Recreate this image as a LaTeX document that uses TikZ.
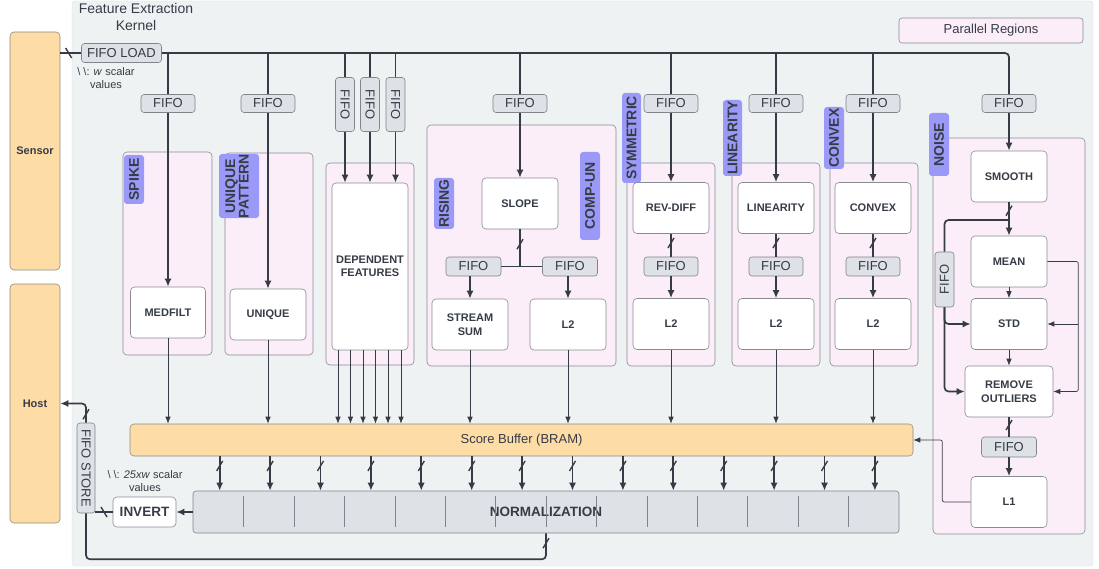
\documentclass[tikz,border=0pt]{standalone}
\usepackage{fontspec}
\setmainfont{Liberation Sans}
\setsansfont{Liberation Sans}
\usepackage{graphicx}
\usepackage{xcolor}
\usetikzlibrary{arrows.meta,calc,positioning}
\definecolor{fxKernel}{HTML}{EFF2F3}
\definecolor{fxKernelLine}{HTML}{DDE1E3}
\definecolor{fxInk}{HTML}{363C46}
\definecolor{fxPink}{HTML}{FCEEF8}
\definecolor{fxRegLine}{HTML}{8A8C94}
\definecolor{fxPurple}{HTML}{9B99F8}
\definecolor{fxFifo}{HTML}{DEE1E5}
\definecolor{fxFifoLine}{HTML}{80858C}
\definecolor{fxOrange}{HTML}{FDDCA5}
\definecolor{fxOrangeLine}{HTML}{8E8B85}

\begin{document}
\begin{tikzpicture}[x=1pt,y=-1pt,>=Latex,font=\sffamily]
  \tikzset{
    region/.style={draw=fxRegLine,fill=fxPink,rounded corners=4pt,line width=.6pt,inner sep=0pt},
    tag/.style={fill=fxPurple,rounded corners=3pt,inner sep=0pt,text=fxInk,font=\bfseries\fontsize{14}{13.5}\selectfont},
    block/.style={draw=fxRegLine,fill=white,rounded corners=4pt,line width=.6pt,inner sep=0pt,align=center,text=fxInk,font=\bfseries\fontsize{11}{13.5}\selectfont},
    blockbox/.style={block,minimum width=76pt,minimum height=51pt},
    fifo/.style={draw=fxFifoLine,fill=fxFifo,rounded corners=3pt,line width=.6pt,inner sep=0pt,text=fxInk,font=\fontsize{13}{14}\selectfont},
    fifobox/.style={fifo,minimum width=54pt,minimum height=18pt},
    fifoup/.style={fifo,minimum width=19pt,minimum height=54pt},
    io/.style={draw=fxOrangeLine,fill=fxOrange,rounded corners=4pt,line width=.6pt,inner sep=0pt,text=fxInk,font=\bfseries\fontsize{11}{13}\selectfont},
    bus/.style={draw=fxInk,line width=1.7pt},
    flow/.style={bus,-{Latex[length=8pt,width=7pt]}},
    feed/.style={draw=fxInk,line width=.7pt,-{Latex[length=7pt,width=5.5pt]}},
    note/.style={text=fxInk,align=center,inner sep=0pt,font=\fontsize{11}{12.5}\selectfont},
    busmark/.pic={\draw[-,fxInk,line width=1.4pt] (-3,5) -- (3,-5);},
    busmarkback/.pic={\draw[-,fxInk,line width=1.4pt] (-3,-5) -- (3,5);}
  }
  \useasboundingbox (0,0) rectangle (1099,569);
  \node[draw=fxKernelLine,fill=fxKernel,rounded corners=3pt,minimum width=1021pt,minimum height=565pt] (kernel) at (582.5,283.5) {};
  \node[text=fxInk,align=center,font=\fontsize{14}{16.5}\selectfont] (kernelTitle) at (136,17) {Feature Extraction\\Kernel};
  \node[io,minimum width=50pt,minimum height=238pt] (sensor) at (35,151) {Sensor};
  \node[io,minimum width=50pt,minimum height=239pt] (host) at (35,403.5) {Host};
  \node[draw=fxRegLine,fill=fxPink,rounded corners=3pt,line width=.6pt,minimum width=184pt,minimum height=25pt,text=fxInk,font=\fontsize{13}{14}\selectfont] (legend) at (991,30.5) {Parallel Regions};
  \node[fifo,minimum width=80pt,minimum height=19pt] (fifoLoad) at (121.5,53) {FIFO LOAD};
  \node[note] (loadNote) at (106,78) {\textbackslash\ \textbackslash: \textit{w} scalar\\values};

  \node[region,minimum width=89pt,minimum height=203pt] (rSpike) at (167.5,253.5) {};
  \node[region,minimum width=88pt,minimum height=202pt] (rUnique) at (269,254) {};
  \node[region,minimum width=88pt,minimum height=202pt] (rDep) at (370,264) {};
  \node[region,minimum width=189pt,minimum height=241pt] (rRising) at (521.5,245.5) {};
  \node[region,minimum width=88pt,minimum height=203pt] (rSym) at (671,264.5) {};
  \node[region,minimum width=88pt,minimum height=203pt] (rLin) at (776,264.5) {};
  \node[region,minimum width=88pt,minimum height=203pt] (rConv) at (874,264.5) {};
  \node[region,minimum width=152pt,minimum height=396pt] (rNoise) at (1009,336) {};

  \node[tag,minimum width=20pt,minimum height=49pt] (tSpike) at (134,179.5) {\rotatebox{90}{SPIKE}};
  \node[tag,minimum width=40pt,minimum height=62pt] (tUnique) at (239,186) {\rotatebox{90}{\begin{tabular}{@{}c@{}}UNIQUE\\PATTERN\end{tabular}}};
  \node[tag,minimum width=20pt,minimum height=51pt] (tRising) at (444,203.5) {\rotatebox{90}{RISING}};
  \node[tag,minimum width=20pt,minimum height=88pt] (tComp) at (590,196) {\rotatebox{90}{COMP-UN}};
  \node[tag,minimum width=19pt,minimum height=90pt] (tSym) at (631.5,138) {\rotatebox{90}{SYMMETRIC}};
  \node[tag,minimum width=19pt,minimum height=76pt] (tLin) at (732.5,138) {\rotatebox{90}{LINEARITY}};
  \node[tag,minimum width=20pt,minimum height=62pt] (tConv) at (834,138) {\rotatebox{90}{CONVEX}};
  \node[tag,minimum width=20pt,minimum height=63pt] (tNoise) at (939,144.5) {\rotatebox{90}{NOISE}};

  \node[fifobox] (fA) at (168,103.5) {FIFO};
  \node[fifobox] (fB) at (268,103.5) {FIFO};
  \node[fifoup] (fC1) at (345,104.5) {\rotatebox{-90}{FIFO}};
  \node[fifoup] (fC2) at (370,104.5) {\rotatebox{-90}{FIFO}};
  \node[fifoup] (fC3) at (395.5,104.5) {\rotatebox{-90}{FIFO}};
  \node[fifobox] (fE) at (520,103.5) {FIFO};
  \node[fifobox] (fF) at (671,103.5) {FIFO};
  \node[fifobox] (fG) at (776,103.5) {FIFO};
  \node[fifobox] (fH) at (873,103.5) {FIFO};
  \node[fifobox] (fN) at (1009,103.5) {FIFO};

  \node[block,minimum width=75pt,minimum height=51pt] (medfilt) at (168,312.5) {MEDFILT};
  \node[blockbox] (unique) at (268,314.5) {UNIQUE};
  \node[block,minimum width=76pt,minimum height=167pt] (dep) at (370,266.5) {DEPENDENT\\FEATURES};
  \node[blockbox] (slope) at (520,203.5) {SLOPE};
  \node[fifo,minimum width=55pt,minimum height=19pt] (fR1) at (473.5,266.5) {FIFO};
  \node[fifo,minimum width=55pt,minimum height=19pt] (fR2) at (570,266.5) {FIFO};
  \node[blockbox] (stream) at (470,324.5) {STREAM\\SUM};
  \node[blockbox] (l2R) at (568,324.5) {L2};
  \node[blockbox] (revdiff) at (671,208) {REV-DIFF};
  \node[fifo,minimum width=54pt,minimum height=19pt] (fS) at (671,266.5) {FIFO};
  \node[blockbox] (l2S) at (671,324) {L2};
  \node[blockbox] (linb) at (776,208) {LINEARITY};
  \node[fifo,minimum width=54pt,minimum height=19pt] (fL) at (776,266.5) {FIFO};
  \node[blockbox] (l2L) at (776,324) {L2};
  \node[blockbox] (convb) at (873,208) {CONVEX};
  \node[fifo,minimum width=54pt,minimum height=19pt] (fV) at (873,266.5) {FIFO};
  \node[blockbox] (l2V) at (873,324) {L2};
  \node[blockbox] (smooth) at (1009,176.5) {SMOOTH};
  \node[blockbox] (mean) at (1009,261.5) {MEAN};
  \node[blockbox] (std) at (1009,324) {STD};
  \node[block,minimum width=88pt,minimum height=51pt] (remove) at (1009,391.5) {REMOVE\\OUTLIERS};
  \node[fifo,minimum width=55pt,minimum height=20pt] (fN2) at (1009,447) {FIFO};
  \node[blockbox] (l1) at (1009,502) {L1};
  \node[fifo,minimum width=19pt,minimum height=55pt] (fNv) at (944.5,279.5) {\rotatebox{90}{FIFO}};

  \node[io,minimum width=783pt,minimum height=32pt,font=\fontsize{13}{14}\selectfont] (buffer) at (521.5,440) {Score Buffer (BRAM)};
  \node[fifo,minimum width=706pt,minimum height=42pt,font=\bfseries\fontsize{13.5}{14}\selectfont] (norm) at (546,512) {NORMALIZATION};
  \node[block,minimum width=63pt,minimum height=30pt,font=\bfseries\fontsize{13.5}{14}\selectfont] (invert) at (144.5,512) {INVERT};
  \node[fifo,minimum width=18pt,minimum height=90pt] (fifoStore) at (86,468) {\rotatebox{-90}{FIFO STORE}};
  \node[note] (storeNote) at (145,481) {\textbackslash\ \textbackslash: \textit{25xw} scalar\\values};

  \draw[bus] (sensor.east |- fifoLoad) -- pic[pos=.4]{busmarkback} (fifoLoad.west);
  \draw[bus,rounded corners=4pt] (fifoLoad.east) -| (fN.north);
  \foreach \f in {fA,fB,fC1,fC2,fC3,fE,fF,fG,fH}
    \draw[bus] (\f |- fifoLoad) -- (\f.north);
  \foreach \f/\b in {fA/medfilt,fB/unique,fE/slope,fF/revdiff,fG/linb,fH/convb,fN/smooth}
    \draw[flow] (\f.south) -- (\b.north);
  \foreach \f in {fC1,fC2,fC3}
    \draw[flow] (\f.south) -- (\f.south |- dep.north);

  \draw[bus] (slope.south) -- pic[pos=.4]{busmark} (slope.south |- fR1.east);
  \draw[bus] (fR1.east) -- (fR2.west);
  \draw[flow] (stream.north |- fR1.south) -- (stream.north);
  \draw[flow] (l2R.north |- fR2.south) -- (l2R.north);
  \foreach \a/\f/\b in {revdiff/fS/l2S,linb/fL/l2L,convb/fV/l2V,remove/fN2/l1}{
    \draw[bus] (\a.south) -- pic[pos=.4]{busmark} (\f.north);
    \draw[flow] (\f.south) -- (\b.north);
  }

  \draw[flow] (smooth.south) -- pic[pos=.25]{busmark} (mean.north);
  \coordinate (tap) at ($(smooth.south)!.53!(mean.north)$);
  \draw[bus,rounded corners=4pt] (tap) -| (fNv.north);
  \draw[flow,rounded corners=4pt] (fNv.south) |- (std.west);
  \draw[flow,rounded corners=4pt] (fNv.south) |- (remove.west);
  \draw[feed] (mean.south) -- (std.north);
  \draw[feed] (std.south) -- (remove.north);
  \coordinate (side) at ([xshift=31pt]mean.east);
  \draw[feed,rounded corners=2pt] (mean.east) -| (side |- remove.east) -- (remove.east);
  \draw[feed] (side |- std.east) -- (std.east);
  \coordinate (ret) at ([xshift=29pt]buffer.east);
  \draw[feed,rounded corners=2pt] (l1.west) -| (ret) -- (buffer.east);

  \foreach \b in {medfilt,unique,stream,l2R,l2S,l2L,l2V}
    \draw[feed] (\b.south) -- (\b.south |- buffer.north);
  \foreach \dx in {-32,-19.5,-7,5.5,18,31}{
    \coordinate (dd) at ([xshift=\dx pt]dep.south);
    \draw[feed] (dd) -- (dd |- buffer.north);
  }
  \foreach \i in {0,...,13}{
    \coordinate (bq) at ($(buffer.south west)+({90+50.4*\i},0)$);
    \draw[flow] (bq) -- pic[pos=.28]{busmark} (bq |- norm.north);
  }
  \foreach \i in {0,...,12}
    \draw[fxFifoLine,line width=.6pt] ($(norm.north west)+({51+50.4*\i},5)$) -- ++(0,31);

  \draw[flow] (norm.west) -- (invert.east);
  \draw[bus] (invert.west) -- pic[pos=.5]{busmarkback} (invert.west -| fifoStore.east);
  \draw[flow,rounded corners=4pt] (fifoStore.north) |- pic[pos=.22]{busmark} (host.east);
  \draw[bus,rounded corners=4pt] (norm.south) -- pic[pos=.38]{busmark} ++(0,26) -| (fifoStore.south);
\end{tikzpicture}
\end{document}
